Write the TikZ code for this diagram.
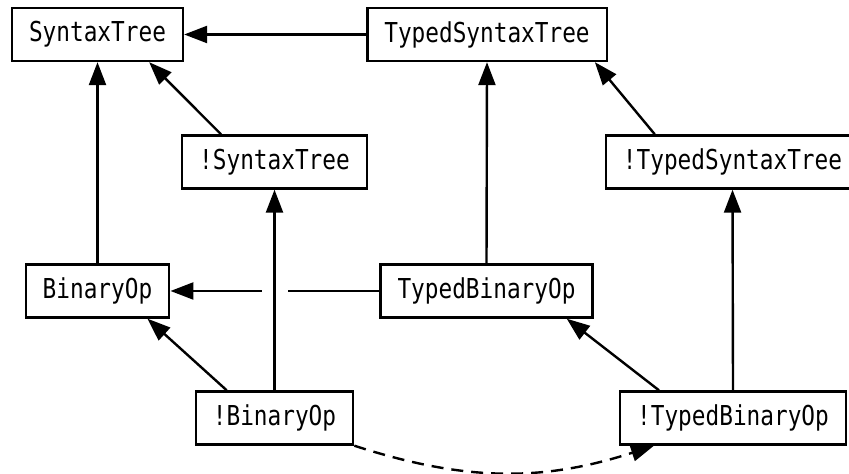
\documentclass[tikz,border=0pt]{standalone}
\usepackage{fontspec}
\newfontfamily\codefont[FakeStretch=0.83]{DejaVu Sans Mono}
\usetikzlibrary{arrows.meta}

\begin{document}
\begin{tikzpicture}[x=0.5pt,y=0.5pt,
  cls/.style={draw,line width=1.2pt,font=\codefont\fontsize{13.7}{16}\selectfont,
    minimum height=26.5pt,inner xsep=8.5pt},
  isa/.style={line width=1.2pt,-{Triangle[length=11.5pt,width=8.5pt]}},
  plain/.style={line width=1.2pt}]
\useasboundingbox (0,0) rectangle (849,474);

% classes, one row at a time
\node[cls] (st)    at (97.5,439.5) {SyntaxTree};
\node[cls] (tst)   at (487,439.5)  {TypedSyntaxTree};
\node[cls] (nst)   at (274.5,312)  {!SyntaxTree};
\node[cls] (ntst)  at (732.5,312)  {!TypedSyntaxTree};
\node[cls] (bin)   at (97.5,183)   {BinaryOp};
\node[cls] (tbin)  at (486.5,183)  {TypedBinaryOp};
\node[cls] (bnot)  at (274.5,56)   {!BinaryOp};
\node[cls] (tbnot) at (733,56)     {!TypedBinaryOp};

% inheritance
\draw[isa] (tst.west) -- (st.east);
\draw[isa] (bin.north) -- (st.south);
\draw[isa] ([xshift=20pt]nst.north west) -- ([xshift=-17.5pt]st.south east);
\draw[isa] (tbin.north) -- (tst.south);
\draw[isa] ([xshift=25pt]ntst.north west) -- ([xshift=-6.5pt]tst.south east);
\draw[isa] (bnot.north) -- (nst.south);
\draw[isa] ([xshift=16pt]bnot.north west) -- ([xshift=-11.5pt]bin.south east);
\draw[isa] (tbnot.north) -- (ntst.south);
\draw[isa] ([xshift=20pt]tbnot.north west) -- ([xshift=-13.5pt]tbin.south east);

% TypedBinaryOp -> BinaryOp, broken where it crosses the vertical
\coordinate (cross) at (nst |- bin);
\draw[plain] (tbin.west) -- ([xshift=6.5pt]cross);
\draw[isa] ([xshift=-6.5pt]cross) -- (bin.east);

% conversion
\draw[isa,dash pattern=on 6pt off 4pt] (bnot.south east) to[bend right=18] ([xshift=17.5pt]tbnot.south west);

\end{tikzpicture}
\end{document}
